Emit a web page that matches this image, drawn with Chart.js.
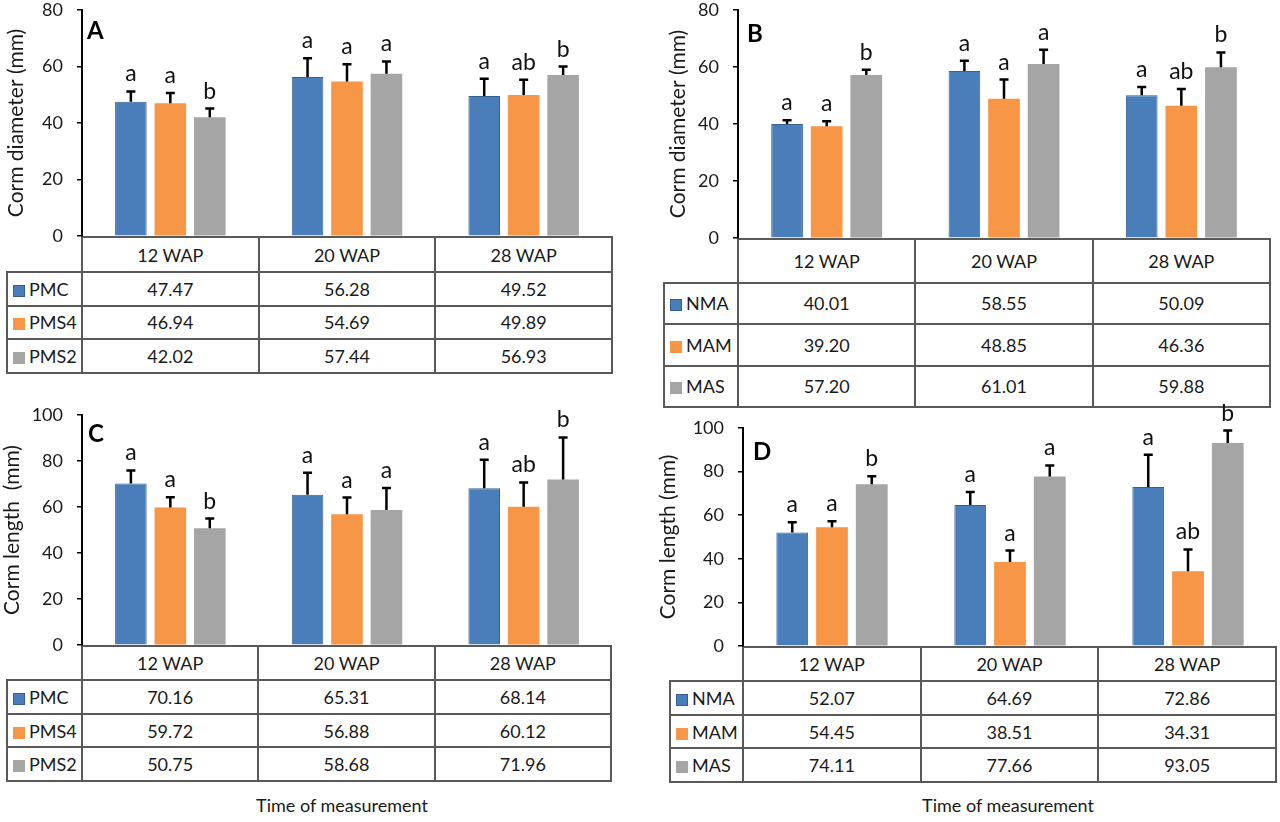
<!DOCTYPE html>
<html>
<head>
<meta charset="utf-8">
<script src="https://cdn.jsdelivr.net/npm/chart.js@4.4.1/dist/chart.umd.min.js"></script>
<style>
    body { margin: 0; width: 1280px; height: 822px; background: #fff; position: relative; overflow: hidden; font-family: Lato, sans-serif; color: #1a1a1a; }
    canvas { position: absolute; z-index: 2; }
    table.data { position: absolute; border-collapse: collapse; table-layout: fixed; z-index: 1; font-size: 18px; }
    table.data td { border: 2px solid #595959; text-align: center; padding: 0; vertical-align: middle; white-space: nowrap; }
    table.data td.blank { border: none; }
    table.data td.name { text-align: left; padding-left: 5px; }
    .sw { display: inline-block; width: 12px; height: 12px; margin-right: 4px; vertical-align: -1px; box-sizing: border-box; }
    .xtitle { position: absolute; font-size: 18px; line-height: 22px; transform: translateX(-50%); white-space: nowrap; }
</style>
</head>
<body>
<canvas id="chartA"></canvas>
<canvas id="chartB"></canvas>
<canvas id="chartC"></canvas>
<canvas id="chartD"></canvas>
<div class="xtitle" style="left:342px; top:794px;">Time of measurement</div>
<div class="xtitle" style="left:1008px; top:794px;">Time of measurement</div>
<script>
const weeks = ['12 WAP', '20 WAP', '28 WAP'];
const seriesP = ['PMC', 'PMS4', 'PMS2'];
const seriesM = ['NMA', 'MAM', 'MAS'];

// A: corm diameter, PM treatments
const diamPMC = [47.47, 56.28, 49.52];
const diamPMS4 = [46.94, 54.69, 49.89];
const diamPMS2 = [42.02, 57.44, 56.93];
const diamErrPMC = [3.7, 6.6, 6.1];
const diamErrPMS4 = [3.7, 6.1, 5.4];
const diamErrPMS2 = [3.1, 4.3, 3.0];

// B: corm diameter, MA treatments
const diamNMA = [40.01, 58.55, 50.09];
const diamMAM = [39.20, 48.85, 46.36];
const diamMAS = [57.20, 61.01, 59.88];
const diamErrNMA = [1.3, 3.6, 2.9];
const diamErrMAM = [1.8, 6.7, 5.9];
const diamErrMAS = [1.8, 5.0, 5.2];

// C: corm length, PM treatments
const lenPMC = [70.16, 65.31, 68.14];
const lenPMS4 = [59.72, 56.88, 60.12];
const lenPMS2 = [50.75, 58.68, 71.96];
const lenErrPMC = [5.7, 9.5, 12.4];
const lenErrPMS4 = [4.5, 7.2, 10.5];
const lenErrPMS2 = [4.2, 9.5, 18.2];

// D: corm length, MA treatments
const lenNMA = [52.07, 64.69, 72.86];
const lenMAM = [54.45, 38.51, 34.31];
const lenMAS = [74.11, 77.66, 93.05];
const lenErrNMA = [4.7, 5.9, 14.8];
const lenErrMAM = [2.8, 5.3, 10.0];
const lenErrMAS = [3.7, 5.1, 5.7];

// significance letters (same pattern in all four panels)
const lettersFirst = ['a', 'a', 'a'];
const lettersSecond = ['a', 'a', 'ab'];
const lettersThird = ['b', 'a', 'b'];
const letters = [lettersFirst, lettersSecond, lettersThird];

const yTicksDiam = { max: 80, step: 20 };
const yTicksLen = { max: 100, step: 20 };

const colors = ['#4A7EBB', '#F79646', '#A5A5A5'];
const borders = ['#355F91', '#F79646', '#A5A5A5'];

// plotTop / zeroY: where the top tick and the zero line must land on the page
const panels = [
    { id: 'A', left: 4, width: 608, plotTop: 10, zeroY: 237, axisX: 82, ticks: yTicksDiam,
      title: 'Corm diameter (mm)', series: seriesP,
      values: [diamPMC, diamPMS4, diamPMS2], errors: [diamErrPMC, diamErrPMS4, diamErrPMS2],
      table: { left: 7, right: 612, head: 35, row: 33.5 }, tag: { dx: 5, dy: 29 } },
    { id: 'B', left: 666, width: 604, plotTop: 10, zeroY: 239, axisX: 738, ticks: yTicksDiam,
      title: 'Corm diameter (mm)', series: seriesM,
      values: [diamNMA, diamMAM, diamMAS], errors: [diamErrNMA, diamErrMAM, diamErrMAS],
      table: { left: 664, right: 1270, head: 43.5, row: 41.5 }, tag: { dx: 9, dy: 32 } },
    { id: 'C', left: 0, width: 612, plotTop: 415, zeroY: 646, axisX: 82, ticks: yTicksLen,
      title: 'Corm length  (mm)', series: seriesP,
      values: [lenPMC, lenPMS4, lenPMS2], errors: [lenErrPMC, lenErrPMS4, lenErrPMS2],
      table: { left: 7, right: 611, head: 34, row: 33.7 }, tag: { dx: 6, dy: 27 } },
    { id: 'D', left: 656, width: 621, plotTop: 428, zeroY: 647, axisX: 743, ticks: yTicksLen,
      title: 'Corm length (mm)', series: seriesM,
      values: [lenNMA, lenMAM, lenMAS], errors: [lenErrNMA, lenErrMAM, lenErrMAS],
      table: { left: 670, right: 1276, head: 34, row: 33.7 }, tag: { dx: 10, dy: 32 } }
];

function errorBarPlugin(p) {
    return {
        id: 'errbars' + p.id,
        afterDatasetsDraw(chart) {
            const c = chart.ctx;
            const y = chart.scales.y;
            c.save();
            c.strokeStyle = '#000';
            c.lineWidth = 2.5;
            c.fillStyle = '#111';
            c.font = '23px Lato';
            c.textAlign = 'center';
            c.textBaseline = 'alphabetic';
            p.series.forEach((s, i) => {
                const meta = chart.getDatasetMeta(i);
                meta.data.forEach((bar, j) => {
                    const top = y.getPixelForValue(p.values[i][j] + p.errors[i][j]);
                    c.beginPath();
                    c.moveTo(bar.x, bar.y);
                    c.lineTo(bar.x, top);
                    c.moveTo(bar.x - 4.5, top);
                    c.lineTo(bar.x + 4.5, top);
                    c.stroke();
                    c.fillText(letters[i][j], bar.x, top - 10);
                });
            });
            c.font = 'bold 24px Lato';
            c.textAlign = 'left';
            c.fillStyle = '#000';
            c.fillText(p.id, chart.chartArea.left + p.tag.dx, chart.chartArea.top + p.tag.dy);
            c.restore();
        }
    };
}

function makeChart(el, p) {
    return new Chart(el.getContext('2d'), {
        type: 'bar',
        data: {
            labels: weeks,
            datasets: p.series.map((name, i) => ({
                label: name,
                data: p.values[i],
                backgroundColor: colors[i],
                borderColor: borders[i],
                borderWidth: i === 0 ? 1 : 0,
                categoryPercentage: 0.67,
                barPercentage: 0.8
            }))
        },
        options: {
            responsive: false,
            maintainAspectRatio: false,
            animation: false,
            layout: { padding: 0 },
            plugins: { legend: { display: false }, tooltip: { enabled: false } },
            scales: {
                x: { display: false },
                y: {
                    min: 0,
                    max: p.ticks.max,
                    ticks: { stepSize: p.ticks.step, padding: 14, color: '#1a1a1a', font: { family: 'Lato', size: 18 } },
                    grid: { drawOnChartArea: false, drawTicks: true, tickLength: 5, color: '#000', lineWidth: 1.5 },
                    border: { display: true, color: '#000', width: 2 },
                    title: { display: true, text: p.title, color: '#1a1a1a', font: { family: 'Lato', size: 21 }, padding: 0 },
                    afterFit: (scale) => { scale.width = p.axisX - p.left; }
                }
            }
        },
        plugins: [errorBarPlugin(p)]
    });
}

function createPanel(p) {
    const el = document.getElementById('chart' + p.id);
    const plotH = p.zeroY - p.plotTop;
    el.width = p.width;
    el.height = plotH + 40;
    // first pass only measures how much room the axis labels take above and below the plot
    let chart = makeChart(el, p);
    const gapTop = chart.chartArea.top;
    const gapBottom = el.height - chart.chartArea.bottom;
    chart.destroy();
    el.width = p.width;
    el.height = gapTop + plotH + gapBottom;
    el.style.left = p.left + 'px';
    el.style.top = (p.plotTop - gapTop) + 'px';
    chart = makeChart(el, p);
}

function buildTable(p) {
    const t = document.createElement('table');
    t.className = 'data';
    const colW = (p.table.right - p.axisX) / 3;
    t.style.left = (p.table.left - 1) + 'px';
    t.style.top = (p.zeroY - 1) + 'px';
    t.style.width = (p.table.right - p.table.left + 2) + 'px';
    let html = '<colgroup><col style="width:' + (p.axisX - p.table.left) + 'px">';
    weeks.forEach(() => { html += '<col style="width:' + colW + 'px">'; });
    html += '</colgroup>';
    html += '<tr style="height:' + p.table.head + 'px"><td class="blank"></td>' + weeks.map(w => '<td>' + w + '</td>').join('') + '</tr>';
    p.series.forEach((name, i) => {
        html += '<tr style="height:' + p.table.row + 'px"><td class="name"><span class="sw" style="background:' + colors[i] +
            (i === 0 ? ';border:1px solid ' + borders[0] : '') + '"></span>' + name + '</td>' +
            p.values[i].map(v => '<td>' + v.toFixed(2) + '</td>').join('') + '</tr>';
    });
    t.innerHTML = html;
    document.body.appendChild(t);
}

panels.forEach(p => {
    createPanel(p);
    buildTable(p);
});
</script>
</body>
</html>
